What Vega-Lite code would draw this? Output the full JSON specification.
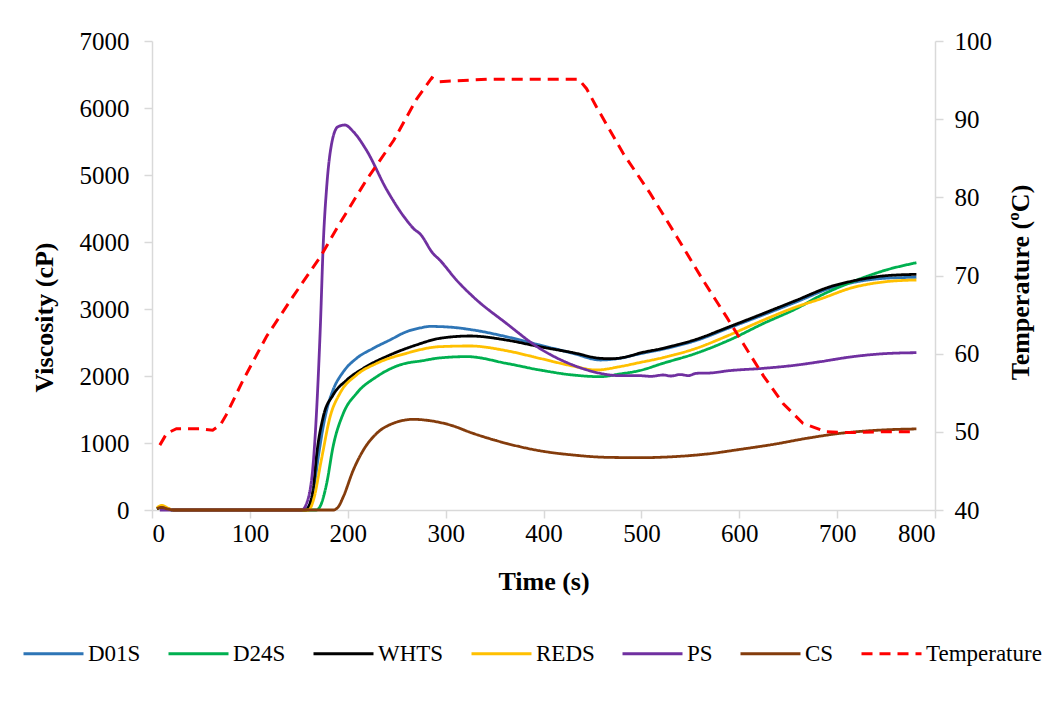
{
  "$schema": "https://vega.github.io/schema/vega-lite/v6.json",
  "autosize": "none",
  "width": 783,
  "height": 469,
  "padding": {"left": 152, "top": 41, "right": 117, "bottom": 197},
  "background": "white",
  "config": {
    "view": {"stroke": null},
    "font": "Liberation Serif, serif",
    "axis": {
      "grid": false,
      "domainColor": "#d9d9d9",
      "domainWidth": 1.5,
      "tickColor": "#d9d9d9",
      "tickWidth": 1.5,
      "tickSize": 8,
      "format": "d",
      "labelFont": "Liberation Serif, serif",
      "labelFontSize": 25,
      "labelColor": "#000000",
      "titleFont": "Liberation Serif, serif",
      "titleFontSize": 26,
      "titleFontWeight": "bold",
      "titleColor": "#000000"
    },
    "legend": {
      "labelFont": "Liberation Serif, serif",
      "labelFontSize": 23,
      "labelColor": "#000000"
    }
  },
  "datasets": {
    "visc": [
      {"t": 5, "s": "D01S", "v": 20}, {"t": 10, "s": "D01S", "v": 50}, {"t": 16, "s": "D01S", "v": 20}, {"t": 22, "s": "D01S", "v": 0},
      {"t": 155, "s": "D01S", "v": 0}, {"t": 160, "s": "D01S", "v": 50}, {"t": 165, "s": "D01S", "v": 300}, {"t": 170, "s": "D01S", "v": 800},
      {"t": 175, "s": "D01S", "v": 1250}, {"t": 178.5, "s": "D01S", "v": 1493}, {"t": 185, "s": "D01S", "v": 1791}, {"t": 195.5, "s": "D01S", "v": 2064},
      {"t": 209, "s": "D01S", "v": 2264}, {"t": 226, "s": "D01S", "v": 2413}, {"t": 243, "s": "D01S", "v": 2537}, {"t": 260, "s": "D01S", "v": 2661},
      {"t": 275, "s": "D01S", "v": 2720}, {"t": 284, "s": "D01S", "v": 2740}, {"t": 304, "s": "D01S", "v": 2730}, {"t": 328, "s": "D01S", "v": 2687},
      {"t": 362, "s": "D01S", "v": 2587}, {"t": 396, "s": "D01S", "v": 2463}, {"t": 430, "s": "D01S", "v": 2339}, {"t": 458, "s": "D01S", "v": 2239},
      {"t": 478, "s": "D01S", "v": 2264}, {"t": 498, "s": "D01S", "v": 2330}, {"t": 522, "s": "D01S", "v": 2400}, {"t": 556, "s": "D01S", "v": 2530},
      {"t": 590, "s": "D01S", "v": 2720}, {"t": 625, "s": "D01S", "v": 2915}, {"t": 659, "s": "D01S", "v": 3110}, {"t": 693, "s": "D01S", "v": 3310},
      {"t": 716, "s": "D01S", "v": 3395}, {"t": 750, "s": "D01S", "v": 3460}, {"t": 781, "s": "D01S", "v": 3473},

      {"t": 5, "s": "D24S", "v": 20}, {"t": 10, "s": "D24S", "v": 40}, {"t": 16, "s": "D24S", "v": 15}, {"t": 22, "s": "D24S", "v": 0},
      {"t": 168, "s": "D24S", "v": 0}, {"t": 172, "s": "D24S", "v": 60}, {"t": 178.5, "s": "D24S", "v": 398}, {"t": 185, "s": "D24S", "v": 945},
      {"t": 195.5, "s": "D24S", "v": 1443}, {"t": 209, "s": "D24S", "v": 1741}, {"t": 229.6, "s": "D24S", "v": 1990}, {"t": 253, "s": "D24S", "v": 2164},
      {"t": 277, "s": "D24S", "v": 2230}, {"t": 294, "s": "D24S", "v": 2270}, {"t": 322, "s": "D24S", "v": 2289}, {"t": 362, "s": "D24S", "v": 2189},
      {"t": 396, "s": "D24S", "v": 2090}, {"t": 430, "s": "D24S", "v": 2015}, {"t": 458, "s": "D24S", "v": 1990}, {"t": 478, "s": "D24S", "v": 2030},
      {"t": 498, "s": "D24S", "v": 2080}, {"t": 522, "s": "D24S", "v": 2189}, {"t": 556, "s": "D24S", "v": 2339}, {"t": 590, "s": "D24S", "v": 2537},
      {"t": 625, "s": "D24S", "v": 2786}, {"t": 659, "s": "D24S", "v": 3010}, {"t": 683, "s": "D24S", "v": 3200}, {"t": 716, "s": "D24S", "v": 3408},
      {"t": 750, "s": "D24S", "v": 3582}, {"t": 781, "s": "D24S", "v": 3691},

      {"t": 5, "s": "WHTS", "v": 20}, {"t": 10, "s": "WHTS", "v": 40}, {"t": 16, "s": "WHTS", "v": 15}, {"t": 22, "s": "WHTS", "v": 0},
      {"t": 157, "s": "WHTS", "v": 0}, {"t": 161, "s": "WHTS", "v": 80}, {"t": 165, "s": "WHTS", "v": 350}, {"t": 168, "s": "WHTS", "v": 796},
      {"t": 175, "s": "WHTS", "v": 1393}, {"t": 185, "s": "WHTS", "v": 1716}, {"t": 199, "s": "WHTS", "v": 1940}, {"t": 216, "s": "WHTS", "v": 2115},
      {"t": 243, "s": "WHTS", "v": 2313}, {"t": 270, "s": "WHTS", "v": 2463}, {"t": 294, "s": "WHTS", "v": 2562}, {"t": 325, "s": "WHTS", "v": 2597},
      {"t": 362, "s": "WHTS", "v": 2537}, {"t": 396, "s": "WHTS", "v": 2438}, {"t": 430, "s": "WHTS", "v": 2348}, {"t": 458, "s": "WHTS", "v": 2264},
      {"t": 470, "s": "WHTS", "v": 2258}, {"t": 488, "s": "WHTS", "v": 2298}, {"t": 498, "s": "WHTS", "v": 2340}, {"t": 522, "s": "WHTS", "v": 2413},
      {"t": 556, "s": "WHTS", "v": 2547}, {"t": 590, "s": "WHTS", "v": 2736}, {"t": 625, "s": "WHTS", "v": 2935}, {"t": 659, "s": "WHTS", "v": 3134},
      {"t": 693, "s": "WHTS", "v": 3333}, {"t": 716, "s": "WHTS", "v": 3418}, {"t": 750, "s": "WHTS", "v": 3497}, {"t": 781, "s": "WHTS", "v": 3517},

      {"t": 5, "s": "REDS", "v": 30}, {"t": 10, "s": "REDS", "v": 70}, {"t": 16, "s": "REDS", "v": 30}, {"t": 22, "s": "REDS", "v": 0},
      {"t": 160, "s": "REDS", "v": 0}, {"t": 165, "s": "REDS", "v": 150}, {"t": 173, "s": "REDS", "v": 746}, {"t": 182, "s": "REDS", "v": 1393},
      {"t": 192, "s": "REDS", "v": 1741}, {"t": 209, "s": "REDS", "v": 2015}, {"t": 229.6, "s": "REDS", "v": 2189}, {"t": 260, "s": "REDS", "v": 2339},
      {"t": 294, "s": "REDS", "v": 2438}, {"t": 325, "s": "REDS", "v": 2448}, {"t": 362, "s": "REDS", "v": 2378}, {"t": 396, "s": "REDS", "v": 2264},
      {"t": 430, "s": "REDS", "v": 2149}, {"t": 454, "s": "REDS", "v": 2090}, {"t": 478, "s": "REDS", "v": 2140}, {"t": 498, "s": "REDS", "v": 2200},
      {"t": 522, "s": "REDS", "v": 2274}, {"t": 556, "s": "REDS", "v": 2413}, {"t": 590, "s": "REDS", "v": 2612}, {"t": 625, "s": "REDS", "v": 2836},
      {"t": 659, "s": "REDS", "v": 3035}, {"t": 683, "s": "REDS", "v": 3150}, {"t": 716, "s": "REDS", "v": 3320}, {"t": 750, "s": "REDS", "v": 3408},
      {"t": 781, "s": "REDS", "v": 3433},

      {"t": 8, "s": "PS", "v": 0}, {"t": 153, "s": "PS", "v": 0}, {"t": 158, "s": "PS", "v": 100}, {"t": 165, "s": "PS", "v": 746},
      {"t": 172, "s": "PS", "v": 2736}, {"t": 175, "s": "PS", "v": 3980}, {"t": 178.5, "s": "PS", "v": 4825}, {"t": 183.6, "s": "PS", "v": 5473},
      {"t": 190, "s": "PS", "v": 5721}, {"t": 197, "s": "PS", "v": 5746}, {"t": 205.7, "s": "PS", "v": 5647}, {"t": 219, "s": "PS", "v": 5373},
      {"t": 240, "s": "PS", "v": 4776}, {"t": 260, "s": "PS", "v": 4328}, {"t": 268, "s": "PS", "v": 4190}, {"t": 274, "s": "PS", "v": 4120},
      {"t": 287, "s": "PS", "v": 3831}, {"t": 294, "s": "PS", "v": 3731}, {"t": 311, "s": "PS", "v": 3433}, {"t": 328, "s": "PS", "v": 3184},
      {"t": 362, "s": "PS", "v": 2786}, {"t": 396, "s": "PS", "v": 2413}, {"t": 430, "s": "PS", "v": 2164}, {"t": 458, "s": "PS", "v": 2040},
      {"t": 478, "s": "PS", "v": 2005}, {"t": 498, "s": "PS", "v": 2005}, {"t": 510, "s": "PS", "v": 1995}, {"t": 522, "s": "PS", "v": 2015},
      {"t": 530, "s": "PS", "v": 2000}, {"t": 540, "s": "PS", "v": 2022}, {"t": 548, "s": "PS", "v": 2005}, {"t": 556, "s": "PS", "v": 2040},
      {"t": 570, "s": "PS", "v": 2045}, {"t": 590, "s": "PS", "v": 2080}, {"t": 625, "s": "PS", "v": 2115}, {"t": 659, "s": "PS", "v": 2164},
      {"t": 683, "s": "PS", "v": 2214}, {"t": 716, "s": "PS", "v": 2289}, {"t": 750, "s": "PS", "v": 2335}, {"t": 781, "s": "PS", "v": 2348},

      {"t": 5, "s": "CS", "v": 20}, {"t": 10, "s": "CS", "v": 40}, {"t": 16, "s": "CS", "v": 15}, {"t": 22, "s": "CS", "v": 0},
      {"t": 185, "s": "CS", "v": 0}, {"t": 190, "s": "CS", "v": 40}, {"t": 195.5, "s": "CS", "v": 199}, {"t": 205.7, "s": "CS", "v": 597},
      {"t": 216, "s": "CS", "v": 895}, {"t": 229.6, "s": "CS", "v": 1144}, {"t": 246.5, "s": "CS", "v": 1294}, {"t": 267, "s": "CS", "v": 1353},
      {"t": 284, "s": "CS", "v": 1333}, {"t": 304.5, "s": "CS", "v": 1269}, {"t": 328, "s": "CS", "v": 1144}, {"t": 362, "s": "CS", "v": 995},
      {"t": 396, "s": "CS", "v": 885}, {"t": 430, "s": "CS", "v": 821}, {"t": 465, "s": "CS", "v": 786}, {"t": 499, "s": "CS", "v": 781},
      {"t": 533, "s": "CS", "v": 796}, {"t": 567, "s": "CS", "v": 836}, {"t": 601, "s": "CS", "v": 905}, {"t": 635, "s": "CS", "v": 980},
      {"t": 669, "s": "CS", "v": 1070}, {"t": 703, "s": "CS", "v": 1144}, {"t": 730, "s": "CS", "v": 1180}, {"t": 755, "s": "CS", "v": 1200},
      {"t": 781, "s": "CS", "v": 1210}
    ],
    "temp": [
      {"t": 8, "s": "Temperature", "T": 48.3}, {"t": 15, "s": "Temperature", "T": 49.8}, {"t": 25, "s": "Temperature", "T": 50.4},
      {"t": 49, "s": "Temperature", "T": 50.4}, {"t": 62, "s": "Temperature", "T": 50.2}, {"t": 70, "s": "Temperature", "T": 50.9},
      {"t": 76, "s": "Temperature", "T": 52.2}, {"t": 93, "s": "Temperature", "T": 56.6}, {"t": 117, "s": "Temperature", "T": 62.2},
      {"t": 144, "s": "Temperature", "T": 67.3}, {"t": 172, "s": "Temperature", "T": 72.4}, {"t": 192, "s": "Temperature", "T": 76.7},
      {"t": 219, "s": "Temperature", "T": 82.2}, {"t": 247, "s": "Temperature", "T": 87.3}, {"t": 270, "s": "Temperature", "T": 92.5},
      {"t": 286, "s": "Temperature", "T": 95.3}, {"t": 294, "s": "Temperature", "T": 94.8}, {"t": 342, "s": "Temperature", "T": 95.1},
      {"t": 380, "s": "Temperature", "T": 95.1}, {"t": 407, "s": "Temperature", "T": 95.1}, {"t": 436, "s": "Temperature", "T": 95.1},
      {"t": 444, "s": "Temperature", "T": 93.9}, {"t": 454, "s": "Temperature", "T": 91.6}, {"t": 481.5, "s": "Temperature", "T": 85.6},
      {"t": 509, "s": "Temperature", "T": 80.5}, {"t": 536, "s": "Temperature", "T": 75.0}, {"t": 563, "s": "Temperature", "T": 69.4},
      {"t": 587, "s": "Temperature", "T": 64.7}, {"t": 604, "s": "Temperature", "T": 61.3}, {"t": 625, "s": "Temperature", "T": 57.1},
      {"t": 645, "s": "Temperature", "T": 53.6}, {"t": 665, "s": "Temperature", "T": 51.1}, {"t": 689, "s": "Temperature", "T": 50.0},
      {"t": 713, "s": "Temperature", "T": 49.9}, {"t": 740, "s": "Temperature", "T": 50.0}, {"t": 778, "s": "Temperature", "T": 50.0}
    ]
  },
  "layer": [
    {
      "data": {"name": "visc"},
      "mark": {"type": "line", "strokeWidth": 2.8, "interpolate": "monotone"},
      "encoding": {
        "x": {"field": "t", "type": "quantitative", "scale": {"domain": [0, 800], "nice": false},
          "axis": {"title": "Time (s)", "values": [0, 100, 200, 300, 400, 500, 600, 700, 800], "labelPadding": 3, "titlePadding": 22}},
        "y": {"field": "v", "type": "quantitative", "scale": {"domain": [0, 7000], "nice": false},
          "axis": {"title": "Viscosity (cP)", "values": [0, 1000, 2000, 3000, 4000, 5000, 6000, 7000], "labelPadding": 15, "titlePadding": 22, "titleY": 276}},
        "color": {"field": "s", "type": "nominal",
          "scale": {"domain": ["D01S", "D24S", "WHTS", "REDS", "PS", "CS", "Temperature"],
                    "range": ["#2E75B6", "#00B050", "#000000", "#FFC000", "#7030A0", "#843C0C", "#FF0000"]},
          "legend": {"title": null, "orient": "none", "direction": "horizontal", "legendX": -130, "legendY": 581,
                     "symbolType": "stroke", "symbolSize": 3600, "symbolStrokeWidth": 3, "labelOffset": 3, "columnPadding": 21}},
        "strokeDash": {"field": "s", "type": "nominal",
          "scale": {"domain": ["D01S", "D24S", "WHTS", "REDS", "PS", "CS", "Temperature"],
                    "range": [[1, 0], [1, 0], [1, 0], [1, 0], [1, 0], [1, 0], [11, 7]]},
          "legend": {"title": null, "orient": "none", "direction": "horizontal", "legendX": -130, "legendY": 581,
                     "symbolType": "stroke", "symbolSize": 3600, "symbolStrokeWidth": 3, "labelOffset": 3, "columnPadding": 21}}
      }
    },
    {
      "data": {"name": "temp"},
      "mark": {"type": "line", "strokeWidth": 3},
      "encoding": {
        "x": {"field": "t", "type": "quantitative"},
        "y": {"field": "T", "type": "quantitative", "scale": {"domain": [40, 100], "nice": false},
          "axis": {"orient": "right", "title": "Temperature (ºC)", "titleAngle": 270, "titleBaseline": "top", "titleY": 241, "values": [40, 50, 60, 70, 80, 90, 100], "labelPadding": 11, "titlePadding": 16}},
        "color": {"field": "s", "type": "nominal"},
        "strokeDash": {"field": "s", "type": "nominal"}
      }
    }
  ],
  "resolve": {"scale": {"y": "independent"}}
}
